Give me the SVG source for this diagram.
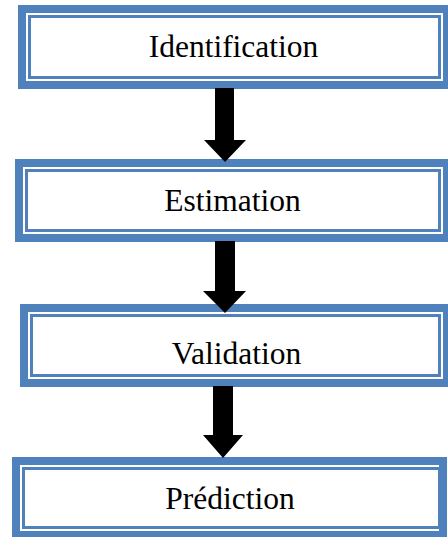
<svg xmlns="http://www.w3.org/2000/svg" width="448" height="537" viewBox="0 0 448 537">
<style>
.thick{fill:#fff;stroke:#4F81BD;stroke-width:8}
.thin{fill:#fff;stroke:#4F81BD;stroke-width:3}
.lbl{font-family:"Liberation Serif","Times New Roman",serif;font-size:31.5px;fill:#000;text-anchor:middle}
.arr{fill:#000}
</style>
<rect width="448" height="537" fill="#fff"/>
<g id="identification">
<rect class="thick" x="22" y="9" width="425" height="76"/>
<rect class="thin" x="29.5" y="16.5" width="410" height="61"/>
<text class="lbl" x="233.5" y="56.7">Identification</text>
</g>
<g id="estimation">
<rect class="thick" x="19" y="163" width="428" height="75"/>
<rect class="thin" x="26.5" y="170.5" width="413" height="60"/>
<text class="lbl" x="232.5" y="211">Estimation</text>
</g>
<g id="validation">
<rect class="thick" x="24" y="308" width="423" height="75"/>
<rect class="thin" x="31.5" y="315.5" width="408" height="60"/>
<text class="lbl" x="236.5" y="364">Validation</text>
</g>
<g id="prediction">
<rect class="thick" x="16" y="461" width="427" height="74"/>
<rect class="thin" x="23.5" y="468.5" width="416" height="59"/>
<text class="lbl" x="230" y="509.3">Prédiction</text>
</g>
<g id="connectors">
<polygon class="arr" points="215,88 234,88 234,140 246,140 225,162 204,140 215,140"/>
<polygon class="arr" points="215,241 235,241 235,291 246,291 225,313 203,291 215,291"/>
<polygon class="arr" points="213,386 233,386 233,435 243,435 223,458 203,435 213,435"/>
</g>
</svg>
